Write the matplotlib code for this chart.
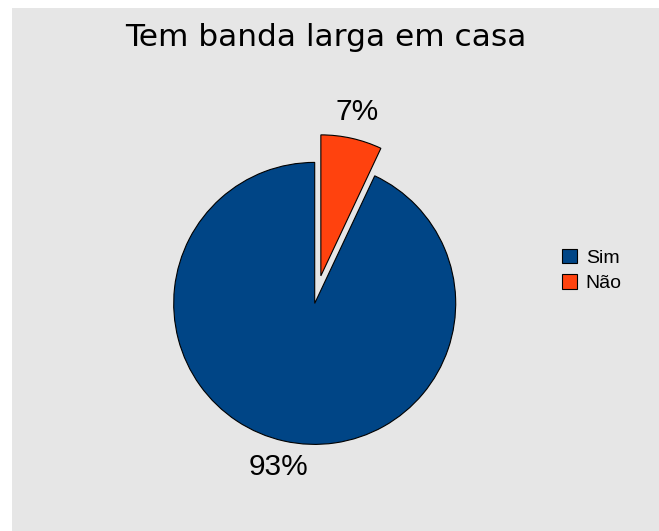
import matplotlib
matplotlib.use("Agg")
import numpy as np
import matplotlib.pyplot as plt
from matplotlib.patches import Rectangle

title = "Tem banda larga em casa"
labels = ["Sim", "Não"]
values = [93, 7]
colors = ["#004586", "#ff420e"]
explode = [0, 0.2]

W, H = 659, 531
fig = plt.figure(figsize=(W / 100, H / 100), dpi=100)
fig.patch.set_facecolor("white")

# gray chart area (white strip on the left and top)
fig.patches.append(Rectangle((12 / W, 0), 1, (H - 8) / H, transform=fig.transFigure,
                             facecolor="#e6e6e6", edgecolor="none", zorder=-10))

# pie axes: centre (314.7, 303.4) px from top-left, radius 141 px
R = 141.0
cx, cy = 314.7, H - 303.4
half = 1.5 * R
ax = fig.add_axes([(cx - half) / W, (cy - half) / H, 2 * half / W, 2 * half / H])
ax.set_facecolor("none")

wedges, texts = ax.pie(values, colors=colors, explode=explode, startangle=64.8,
                       counterclock=False, radius=1,
                       wedgeprops=dict(edgecolor="black", linewidth=0.8))
for w, v in zip(wedges, values):
    ang = np.deg2rad((w.theta1 + w.theta2) / 2)
    x = w.center[0] + 1.19 * np.cos(ang)
    y = w.center[1] + 1.19 * np.sin(ang)
    ax.text(x, y, f"{v}%", ha="center", va="center", fontsize=21.5,
            family="Liberation Sans")

ax.set_xlim(-1.5, 1.5)
ax.set_ylim(-1.5, 1.5)
ax.axis("off")

fig.text(326 / W, 1 - 38 / H, title, ha="center", va="center", fontsize=22.5,
         family="DejaVu Sans")

leg = fig.legend(wedges, labels, loc="center left", bbox_to_anchor=(562 / W, 1 - 270.5 / H),
                 frameon=False, prop={"family": "Liberation Sans", "size": 14},
                 handlelength=0.77, handleheight=0.77, handletextpad=0.45,
                 labelspacing=0.39, borderaxespad=0, borderpad=0)

fig.savefig("out.png", dpi=100, facecolor=fig.get_facecolor())
